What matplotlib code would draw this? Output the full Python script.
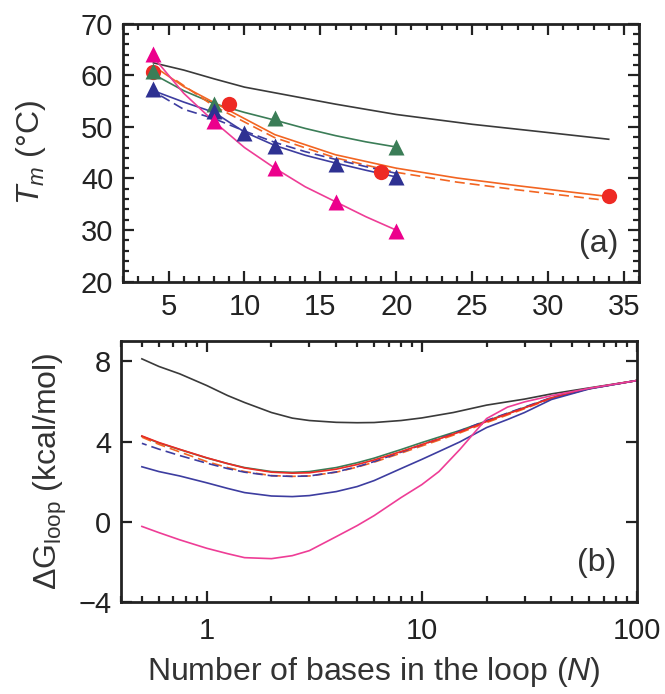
import numpy as np
import matplotlib.pyplot as plt
from matplotlib.ticker import MultipleLocator, LogLocator, NullFormatter

plt.rcParams['font.family'] = 'Liberation Sans'
plt.rcParams['mathtext.fontset'] = 'custom'
plt.rcParams['mathtext.rm'] = 'Liberation Sans'
plt.rcParams['mathtext.it'] = 'Liberation Sans:italic'
plt.rcParams['text.color'] = '#333333'
plt.rcParams['axes.labelcolor'] = '#333333'
plt.rcParams['xtick.color'] = '#222222'
plt.rcParams['ytick.color'] = '#222222'

# =========================
# Panel (a): Tm vs loop length
# =========================
# measured points
n_magenta = [4, 8, 12, 16, 20]
tm_magenta = [64.1, 51.1, 42.0, 35.5, 29.8]
n_green = [4, 8, 12, 20]
tm_green = [60.9, 54.4, 51.8, 46.1]
n_blue = [4, 8, 10, 12, 16, 20]
tm_blue = [57.3, 53.1, 48.9, 46.2, 42.9, 40.3]
n_red = [4, 9, 19, 34]
tm_red = [60.6, 54.4, 41.2, 36.7]

# model curves
fit_black_n = [4, 6, 8, 10, 12, 16, 20, 25, 30, 34]
fit_black_tm = [62.4, 61.0, 59.3, 57.7, 56.6, 54.4, 52.4, 50.5, 48.9, 47.6]
fit_red_n = [4, 6, 8, 12, 16, 20, 24, 28, 34]
fit_red_tm = [61.8, 57.8, 54.7, 48.5, 44.6, 42.0, 40.1, 38.6, 36.5]
fit_reddash_n = [5.5, 8, 12, 16, 20, 24, 28, 34]
fit_reddash_tm = [59.0, 54.0, 47.9, 44.0, 41.2, 39.3, 37.8, 35.7]
fit_green_n = [4, 6, 8, 10, 12, 14, 16, 18, 20]
fit_green_tm = [60.2, 57.0, 54.5, 52.8, 51.3, 49.7, 48.3, 47.1, 46.1]
fit_blue_n = [4, 6, 8, 10, 12, 14, 16, 18, 20]
fit_blue_tm = [57.0, 54.8, 52.8, 49.0, 46.4, 44.5, 43.0, 41.6, 40.3]
fit_bluedash_n = [4.5, 6, 8, 10, 12, 14, 16, 18, 20]
fit_bluedash_tm = [56.0, 53.4, 51.6, 49.2, 47.0, 45.2, 43.7, 42.3, 41.0]
fit_magenta_n = [4, 6, 8, 10, 12, 14, 16, 18, 20]
fit_magenta_tm = [63.5, 56.5, 51.0, 46.0, 42.0, 38.4, 35.5, 32.6, 30.0]

# =========================
# Panel (b): loop free energy vs N (log x)
# =========================
gb_black_n = [0.5, 0.6, 0.75, 1, 1.25, 1.5, 2, 2.5, 3, 4, 5, 6, 8, 10, 14, 20, 30, 40, 60, 100]
gb_black = [8.13, 7.75, 7.38, 6.8, 6.3, 5.95, 5.45, 5.17, 5.05, 4.96, 4.94, 4.95, 5.05, 5.18,
            5.45, 5.82, 6.12, 6.38, 6.68, 7.05]
gb_n = [0.5, 0.6, 0.75, 1, 1.25, 1.5, 2, 2.5, 3, 4, 5, 6, 8, 10, 12, 15, 20, 25, 30, 40, 60, 100]
gb_red = [4.28, 3.95, 3.61, 3.19, 2.9, 2.68, 2.47, 2.42, 2.44, 2.62, 2.85, 3.08, 3.5, 3.85,
          4.13, 4.48, 5.0, 5.38, 5.68, 6.18, 6.65, 7.05]
gb_green = [4.26, 3.93, 3.6, 3.18, 2.9, 2.7, 2.5, 2.46, 2.5, 2.7, 2.94, 3.17, 3.6, 3.95,
            4.22, 4.55, 5.03, 5.4, 5.7, 6.18, 6.65, 7.05]
gb_orange = [4.22, 3.86, 3.48, 3.0, 2.7, 2.5, 2.3, 2.26, 2.28, 2.47, 2.72, 2.97, 3.42, 3.78,
             4.07, 4.43, 4.95, 5.33, 5.64, 6.15, 6.64, 7.05]
gb_bluedash = [3.91, 3.62, 3.3, 2.92, 2.65, 2.47, 2.29, 2.26, 2.28, 2.48, 2.74, 3.0, 3.47, 3.84,
               4.14, 4.52, 5.05, 5.42, 5.72, 6.2, 6.65, 7.05]
gb_blue = [2.74, 2.5, 2.28, 1.94, 1.66, 1.45, 1.28, 1.25, 1.3, 1.5, 1.75, 2.05, 2.65, 3.11,
           3.5, 3.98, 4.7, 5.1, 5.45, 6.1, 6.63, 7.05]
gb_magenta = [-0.24, -0.55, -0.91, -1.33, -1.6, -1.8, -1.85, -1.7, -1.45, -0.75, -0.2, 0.3,
              1.2, 1.85, 2.5, 3.6, 5.15, 5.72, 5.98, 6.29, 6.66, 7.05]

c_black = '#3a3a3a'
c_red = '#ee2a24'
c_orange = '#f26522'
c_green = '#3b7d57'
c_blue = '#2e3192'
c_blue_line = '#3d3da0'
c_magenta = '#ec008c'
c_magenta_line = '#ee3d96'

fig = plt.figure(figsize=(6.65, 6.94), dpi=100)
ax1 = fig.add_axes([0.185, 0.594, 0.776, 0.372])
ax2 = fig.add_axes([0.182, 0.133, 0.776, 0.375])

lw = 1.2
ax1.plot(fit_black_n, fit_black_tm, color=c_black, lw=lw)
ax1.plot(fit_green_n, fit_green_tm, color=c_green, lw=lw)
ax1.plot(fit_red_n, fit_red_tm, color=c_orange, lw=lw)
ax1.plot(fit_reddash_n, fit_reddash_tm, color=c_orange, lw=lw, ls=(0, (6, 3)))
ax1.plot(fit_blue_n, fit_blue_tm, color=c_blue_line, lw=lw)
ax1.plot(fit_bluedash_n, fit_bluedash_tm, color=c_blue_line, lw=lw, ls=(0, (6, 3)))
ax1.plot(fit_magenta_n, fit_magenta_tm, color=c_magenta_line, lw=lw)

ax1.plot(n_red, tm_red, 'o', color=c_red, ms=11, mec='none')
ax1.plot(n_green, tm_green, '^', color=c_green, ms=12, mec='none')
ax1.plot(n_blue, tm_blue, '^', color=c_blue, ms=12, mec='none')
ax1.plot(n_magenta, tm_magenta, '^', color=c_magenta, ms=12, mec='none')

ax1.set_xlim(2, 36)
ax1.set_ylim(20, 70)
ax1.xaxis.set_major_locator(MultipleLocator(5))
ax1.xaxis.set_minor_locator(MultipleLocator(1))
ax1.yaxis.set_major_locator(MultipleLocator(10))
ax1.yaxis.set_minor_locator(MultipleLocator(2))
ax1.set_ylabel(r'$T_m$ (°C)', fontsize=23)
ax1.yaxis.set_label_coords(-0.145, 0.5)
ax1.text(0.96, 0.09, '(a)', transform=ax1.transAxes, fontsize=23,
         ha='right', va='bottom')

ax2.plot(gb_black_n, gb_black, color=c_black, lw=lw)
ax2.plot(gb_n, gb_green, color=c_green, lw=lw)
ax2.plot(gb_n, gb_orange, color=c_orange, lw=lw, ls=(0, (6, 3)))
ax2.plot(gb_n, gb_bluedash, color=c_blue_line, lw=lw, ls=(3, (6, 3)))
ax2.plot(gb_n, gb_red, color=c_red, lw=lw)
ax2.plot(gb_n, gb_blue, color=c_blue_line, lw=lw)
ax2.plot(gb_n, gb_magenta, color=c_magenta_line, lw=lw)

ax2.set_xscale('log')
ax2.set_xlim(0.4, 100)
ax2.set_ylim(-4, 9)
ax2.yaxis.set_major_locator(MultipleLocator(4))
ax2.xaxis.set_major_locator(LogLocator(base=10))
ax2.xaxis.set_minor_locator(LogLocator(base=10, subs=np.arange(2, 10)))
ax2.xaxis.set_minor_formatter(NullFormatter())
ax2.set_xticks([1, 10, 100])
ax2.set_xticklabels(['1', '10', '100'])
ax2.set_ylabel(r'$\Delta$G$_{\mathrm{loop}}$ (kcal/mol)', fontsize=23)
ax2.yaxis.set_label_coords(-0.1, 0.5)
ax2.set_xlabel(r'Number of bases in the loop ($N$)', fontsize=23)
ax2.xaxis.set_label_coords(0.49, -0.205)
ax2.text(0.96, 0.09, '(b)', transform=ax2.transAxes, fontsize=23,
         ha='right', va='bottom')

for ax in (ax1, ax2):
    for s in ax.spines.values():
        s.set_linewidth(2)
        s.set_color('#222222')
    ax.tick_params(which='both', direction='in', top=True, right=True,
                   labelsize=21, width=1.6)
    ax.tick_params(which='major', length=8)
    ax.tick_params(which='minor', length=4)
    ax.tick_params(axis='y', which='major', pad=7)
ax1.tick_params(axis='x', which='major', pad=8)
ax2.tick_params(axis='x', which='major', pad=11)

plt.savefig('out.png', dpi=100)
